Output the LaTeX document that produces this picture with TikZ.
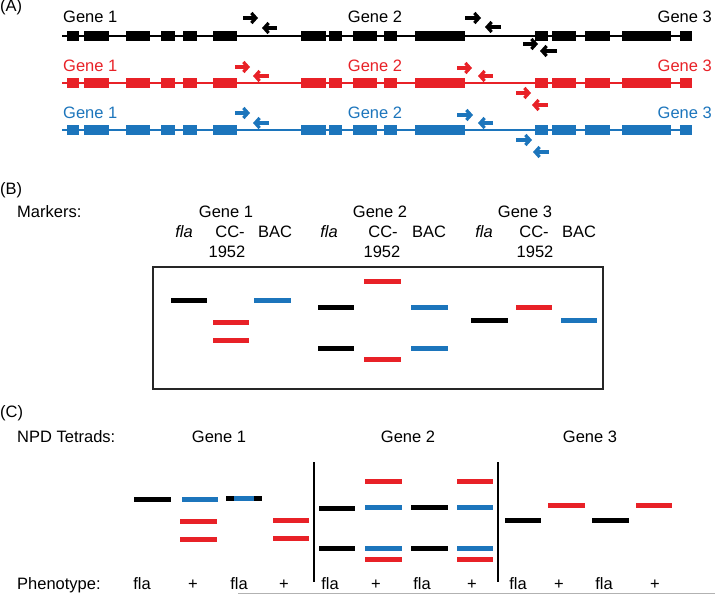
\documentclass[tikz,border=0pt]{standalone}
\usepackage{fontspec}
\setmainfont{Liberation Sans}
\usetikzlibrary{arrows.meta}
\definecolor{genered}{RGB}{232,33,39}
\definecolor{geneblue}{RGB}{28,117,188}
\tikzset{
  intron/.style={draw=#1, line width=2pt},
  band/.style={draw=#1, line width=5pt},
  primer/.style={draw=#1, line width=3.2pt, -{Straight Barb[length=4.5pt,width=10pt]}},
  lbl/.style={anchor=base, inner sep=0pt, font=\fontsize{16.5}{20}\selectfont},
}
\begin{document}
\begin{tikzpicture}[x=1pt,y=-1pt]
        \useasboundingbox (0,0) rectangle (715,594);

        % (A) gene models
        \node[lbl, anchor=base west] (panelA) at (0,12) {(A)};
        \foreach \rowy/\col in {36/black, 83/genered, 130/geneblue} {
          \draw[intron=\col] (62,\rowy) -- (692,\rowy);
          \foreach \xa/\xb in {67/79, 84/109, 126/150, 161/175, 183/197, 213/237,
                               301/326, 329/342, 353/377, 384/397, 415/465,
                               535/548, 552/576, 585/610, 622/671, 680/692}
            \fill[\col] (\xa,\rowy-4.8) rectangle (\xb,\rowy+4.8);
        }

        \begin{scope}[every node/.style={lbl}]
          \node[anchor=base west] (k1) at (63,23)  {Gene 1};
          \node                   (k2) at (375,23) {Gene 2};
          \node[anchor=base east] (k3) at (712,23) {Gene 3};
          \node[anchor=base west, text=genered] (r1) at (63,71)  {Gene 1};
          \node[text=genered]                   (r2) at (375,71) {Gene 2};
          \node[anchor=base east, text=genered] (r3) at (712,71) {Gene 3};
          \node[anchor=base west, text=geneblue] (b1) at (63,118)  {Gene 1};
          \node[text=geneblue]                   (b2) at (375,118) {Gene 2};
          \node[anchor=base east, text=geneblue] (b3) at (712,118) {Gene 3};
        \end{scope}

        % primers
        \draw[primer=black] (243,18) -- (258,18);
        \draw[primer=black] (277,28) -- (262,28);
        \draw[primer=black] (465,18) -- (481,18);
        \draw[primer=black] (501,27) -- (485,27);
        \draw[primer=black] (523,44) -- (538,44);
        \draw[primer=black] (557,51) -- (540,51);

        \draw[primer=genered] (235,67) -- (250,67);
        \draw[primer=genered] (269,76) -- (253,76);
        \draw[primer=genered] (457,68) -- (472,68);
        \draw[primer=genered] (493,76) -- (478,76);
        \draw[primer=genered] (516,93) -- (531,93);
        \draw[primer=genered] (548,105) -- (532,105);

        \draw[primer=geneblue] (235,113) -- (250,113);
        \draw[primer=geneblue] (269,123) -- (253,123);
        \draw[primer=geneblue] (457,115) -- (473,115);
        \draw[primer=geneblue] (493,123) -- (478,123);
        \draw[primer=geneblue] (516,140) -- (532,140);
        \draw[primer=geneblue] (549,152) -- (533,152);

        % (B) markers
        \begin{scope}[every node/.style={lbl}]
          \node[anchor=base west] (panelB) at (0,194) {(B)};
          \node[anchor=base west] (markers) at (17,217) {Markers:};
          \node (mg1) at (226,217) {Gene 1};
          \node (mg2) at (380,217) {Gene 2};
          \node (mg3) at (525,217) {Gene 3};
          \node[font=\fontsize{16.5}{20}\selectfont\itshape] (mf1) at (184,237) {fla};
          \node (mc1) at (230,237) {CC-};
          \node (my1) at (227,257) {1952};
          \node (mb1) at (275,237) {BAC};
          \node[font=\fontsize{16.5}{20}\selectfont\itshape] (mf2) at (329,237) {fla};
          \node (mc2) at (383,237) {CC-};
          \node (my2) at (382,257) {1952};
          \node (mb2) at (429,237) {BAC};
          \node[font=\fontsize{16.5}{20}\selectfont\itshape] (mf3) at (484,237) {fla};
          \node (mc3) at (534,237) {CC-};
          \node (my3) at (535,257) {1952};
          \node (mb3) at (579,237) {BAC};
        \end{scope}

        \draw[line width=1.3pt, black!85] (153,267) rectangle (603,389);
        \draw[band=black]    (171,300) -- (207,300);
        \draw[band=genered]  (213,322) -- (249,322);
        \draw[band=genered]  (213,340) -- (249,340);
        \draw[band=geneblue] (254,300) -- (291,300);
        \draw[band=black]    (318,307) -- (354,307);
        \draw[band=black]    (318,348) -- (354,348);
        \draw[band=genered]  (364,281) -- (401,281);
        \draw[band=genered]  (364,359) -- (401,359);
        \draw[band=geneblue] (411,307) -- (448,307);
        \draw[band=geneblue] (411,348) -- (448,348);
        \draw[band=black]    (471,320) -- (508,320);
        \draw[band=genered]  (516,307) -- (552,307);
        \draw[band=geneblue] (561,320) -- (597,320);

        % (C) NPD tetrads
        \begin{scope}[every node/.style={lbl}]
          \node[anchor=base west] (panelC) at (0,417) {(C)};
          \node[anchor=base west] (npd) at (17,442) {NPD Tetrads:};
          \node (tg1) at (219,442) {Gene 1};
          \node (tg2) at (408,442) {Gene 2};
          \node (tg3) at (590,442) {Gene 3};
          \node[anchor=base west] (pheno) at (17,589) {Phenotype:};
          \node (p1)  at (142,589) {fla};
          \node (p2)  at (193,589) {+};
          \node (p3)  at (239,589) {fla};
          \node (p4)  at (284,589) {+};
          \node (p5)  at (330,589) {fla};
          \node (p6)  at (376,589) {+};
          \node (p7)  at (422,589) {fla};
          \node (p8)  at (472,589) {+};
          \node (p9)  at (518,589) {fla};
          \node (p10) at (559,589) {+};
          \node (p11) at (604,589) {fla};
          \node (p12) at (655,589) {+};
        \end{scope}

        \draw[line width=1.6pt] (314,462) -- (314,582);
        \draw[line width=1.6pt] (498,462) -- (498,582);

        \draw[band=black]    (134,499) -- (171,499);
        \draw[band=geneblue] (182,499) -- (218,499);
        \draw[band=genered]  (180,521) -- (217,521);
        \draw[band=genered]  (180,539) -- (217,539);
        \draw[band=black]    (226,498) -- (262,498);
        \draw[band=geneblue] (234,498) -- (254,498);
        \draw[band=genered]  (273,520) -- (309,520);
        \draw[band=genered]  (273,538) -- (309,538);

        \draw[band=black]    (319,508) -- (355,508);
        \draw[band=black]    (319,548) -- (355,548);
        \draw[band=genered]  (365,481) -- (402,481);
        \draw[band=geneblue] (365,507) -- (402,507);
        \draw[band=geneblue] (365,548) -- (402,548);
        \draw[band=genered]  (365,559) -- (402,559);
        \draw[band=black]    (411,507) -- (448,507);
        \draw[band=black]    (411,548) -- (448,548);
        \draw[band=genered]  (457,481) -- (493,481);
        \draw[band=geneblue] (457,507) -- (493,507);
        \draw[band=geneblue] (457,548) -- (493,548);
        \draw[band=genered]  (457,559) -- (493,559);

        \draw[band=black]    (505,520) -- (541,520);
        \draw[band=genered]  (548,505) -- (585,505);
        \draw[band=black]    (592,520) -- (629,520);
        \draw[band=genered]  (636,505) -- (672,505);

        \draw[black!30, line width=0.8pt] (238,593) -- (715,593);

      \end{tikzpicture}
\end{document}
